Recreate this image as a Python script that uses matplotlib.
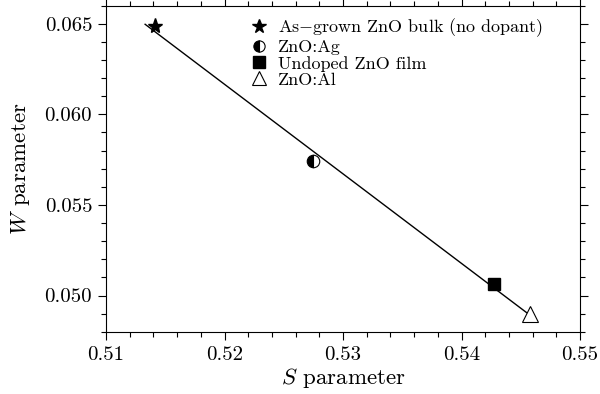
import numpy as np
import matplotlib
matplotlib.use("Agg")
import matplotlib.pyplot as plt
from matplotlib.ticker import MultipleLocator, FormatStrFormatter

plt.rcParams['font.family'] = 'serif'
plt.rcParams['font.serif'] = ['cmr10', 'DejaVu Serif']
plt.rcParams['mathtext.fontset'] = 'cm'
plt.rcParams['axes.unicode_minus'] = False
plt.rcParams['axes.formatter.use_mathtext'] = True

labels = ['As$-$grown ZnO bulk (no dopant)', 'ZnO:Ag', 'Undoped ZnO film', 'ZnO:Al']
S_vals = [0.51414, 0.52747, 0.54274, 0.54578]
W_vals = [0.06485, 0.05741, 0.05061, 0.04897]
fit_range = [0.5133, 0.5460]

fig = plt.figure(figsize=(6.0, 3.94), dpi=100)
ax = fig.add_axes([0.1767, 0.158, 0.79, 0.828])

coef = np.polyfit(S_vals, W_vals, 1)
xf = np.array(fit_range)
ax.plot(xf, np.polyval(coef, xf), color='black', lw=1.0, zorder=1)

ax.plot(S_vals[0], W_vals[0], ls='none', marker='*', ms=11, color='black', label=labels[0], zorder=3)
ax.plot(S_vals[1], W_vals[1], ls='none', marker='o', ms=9, fillstyle='left',
        markerfacecolor='black', markerfacecoloralt='white', markeredgecolor='black',
        markeredgewidth=0.8, label=labels[1], zorder=3)
ax.plot(S_vals[2], W_vals[2], ls='none', marker='s', ms=9, color='black', label=labels[2], zorder=3)
ax.plot(S_vals[3], W_vals[3], ls='none', marker='^', ms=11, markerfacecolor='white',
        markeredgecolor='black', markeredgewidth=0.8, label=labels[3], zorder=3)

ax.set_xlim(0.51, 0.55)
ax.set_ylim(0.048, 0.066)
ax.xaxis.set_major_locator(MultipleLocator(0.01))
ax.xaxis.set_minor_locator(MultipleLocator(0.002))
ax.yaxis.set_major_locator(MultipleLocator(0.005))
ax.yaxis.set_minor_locator(MultipleLocator(0.001))
ax.xaxis.set_major_formatter(FormatStrFormatter('%.2f'))
ax.yaxis.set_major_formatter(FormatStrFormatter('%.3f'))

ax.tick_params(which='both', direction='out', top=True, right=True, labelsize=15, width=0.8)
ax.tick_params(which='major', length=6, pad=4)
ax.tick_params(which='minor', length=3.5)
for sp in ax.spines.values():
    sp.set_linewidth(0.8)

ax.set_xlabel('$S$ parameter', fontsize=16.5, labelpad=2)
ax.set_ylabel('$W$ parameter', fontsize=16.5, labelpad=9)

leg = ax.legend(loc='upper left', bbox_to_anchor=(0.275, 1.01), frameon=False, fontsize=13,
                handlelength=0.9, handletextpad=0.6, labelspacing=0.02, borderaxespad=0.4,
                numpoints=1, markerscale=0.9)

fig.savefig('out.png', dpi=100)
